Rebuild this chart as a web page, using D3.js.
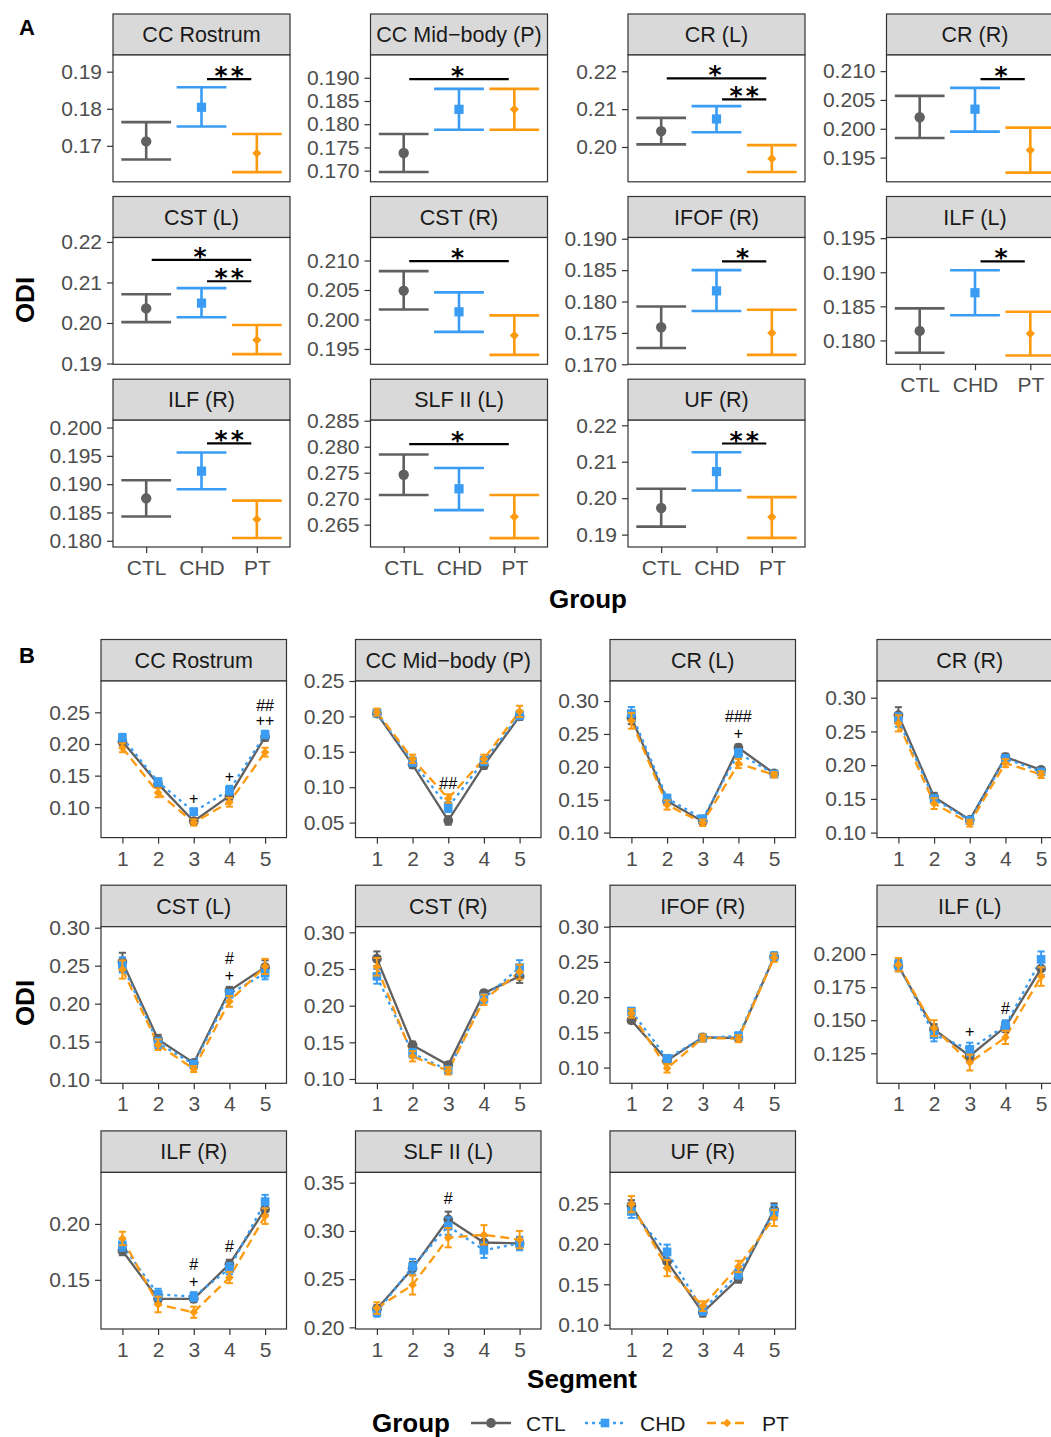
<!DOCTYPE html>
<html>
<head>
<meta charset="utf-8">
<script src="https://cdn.jsdelivr.net/npm/d3@7"></script>
<style>
body { margin: 0; background: #fff; }
</style>
</head>
<body>
<div id="chart"></div>
<script>
// ---- data ----
var groups = ['CTL', 'CHD', 'PT']
var tracts = ['CC Rostrum', 'CC Mid\u2212body (P)', 'CR (L)', 'CR (R)', 'CST (L)', 'CST (R)',
	'IFOF (R)', 'ILF (L)', 'ILF (R)', 'SLF II (L)', 'UF (R)']
var segments = [1, 2, 3, 4, 5]

// panel A: whole-tract mean ODI with interval, one value per tract
var a_ctl_mean = [0.1712, 0.1738, 0.2042, 0.2020, 0.2036, 0.2049, 0.1759, 0.1814, 0.1875, 0.2746, 0.1973]
var a_ctl_lo = [0.1663, 0.1697, 0.2007, 0.1984, 0.2002, 0.2017, 0.1726, 0.1782, 0.1843, 0.2707, 0.1922]
var a_ctl_hi = [0.1764, 0.1779, 0.2077, 0.2057, 0.2071, 0.2082, 0.1792, 0.1847, 0.1907, 0.2785, 0.2026]
var a_chd_mean = [0.1804, 0.1832, 0.2074, 0.2034, 0.2049, 0.2013, 0.1817, 0.1870, 0.1923, 0.2719, 0.2073]
var a_chd_lo = [0.1752, 0.1788, 0.2039, 0.1995, 0.2014, 0.1979, 0.1785, 0.1837, 0.1891, 0.2678, 0.2021]
var a_chd_hi = [0.1858, 0.1876, 0.2108, 0.2071, 0.2086, 0.2046, 0.1850, 0.1903, 0.1956, 0.2759, 0.2126]
var a_pt_mean = [0.1680, 0.1832, 0.1969, 0.1963, 0.1958, 0.1973, 0.1750, 0.1810, 0.1838, 0.2665, 0.1948]
var a_pt_lo = [0.1629, 0.1788, 0.1934, 0.1924, 0.1923, 0.1940, 0.1715, 0.1778, 0.1805, 0.2624, 0.1891]
var a_pt_hi = [0.1732, 0.1876, 0.2005, 0.2002, 0.1995, 0.2007, 0.1787, 0.1842, 0.1871, 0.2707, 0.2003]

var a_ydomain = [[0.1603, 0.1945], [0.1676, 0.1949], [0.1908, 0.2243], [0.1908, 0.2128],
	[0.1898, 0.2211], [0.1924, 0.2139], [0.1700, 0.1902], [0.1765, 0.1951],
	[0.1789, 0.2013], [0.2607, 0.2851], [0.1866, 0.2214]]
var a_yticks = [[0.17, 0.18, 0.19], [0.170, 0.175, 0.180, 0.185, 0.190], [0.20, 0.21, 0.22],
	[0.195, 0.200, 0.205, 0.210], [0.19, 0.20, 0.21, 0.22], [0.195, 0.200, 0.205, 0.210],
	[0.170, 0.175, 0.180, 0.185, 0.190], [0.180, 0.185, 0.190, 0.195],
	[0.180, 0.185, 0.190, 0.195, 0.200], [0.265, 0.270, 0.275, 0.280, 0.285], [0.19, 0.20, 0.21, 0.22]]

// significance brackets in panel A
var sig_tract = [0, 1, 2, 2, 3, 4, 4, 5, 6, 7, 8, 9, 10]
var sig_from = ['CHD', 'CTL', 'CTL', 'CHD', 'CHD', 'CTL', 'CHD', 'CTL', 'CHD', 'CHD', 'CHD', 'CTL', 'CHD']
var sig_to = ['PT', 'PT', 'PT', 'PT', 'PT', 'PT', 'PT', 'PT', 'PT', 'PT', 'PT', 'PT', 'PT']
var sig_y = [0.1880, 0.1897, 0.2181, 0.2126, 0.2086, 0.2156, 0.2103, 0.2099, 0.1864, 0.1916, 0.1972, 0.2805, 0.2150]
var sig_label = ['**', '*', '*', '**', '*', '*', '**', '*', '*', '*', '**', '*', '**']

// panel B: ODI by segment (mean and se), one row per tract
var b_ctl_mean = [
	[0.204, 0.137, 0.078, 0.118, 0.211], [0.204, 0.132, 0.053, 0.131, 0.200],
	[0.275, 0.148, 0.117, 0.229, 0.190], [0.274, 0.153, 0.119, 0.212, 0.193],
	[0.255, 0.153, 0.122, 0.217, 0.248], [0.264, 0.146, 0.119, 0.217, 0.240],
	[0.167, 0.110, 0.143, 0.142, 0.257], [0.191, 0.143, 0.123, 0.145, 0.189],
	[0.176, 0.133, 0.133, 0.164, 0.213], [0.219, 0.261, 0.312, 0.288, 0.287],
	[0.247, 0.178, 0.115, 0.157, 0.242]]
var b_chd_mean = [
	[0.210, 0.140, 0.093, 0.127, 0.215], [0.205, 0.136, 0.072, 0.137, 0.202],
	[0.281, 0.152, 0.121, 0.221, 0.189], [0.267, 0.150, 0.118, 0.210, 0.190],
	[0.251, 0.148, 0.120, 0.213, 0.240], [0.240, 0.135, 0.112, 0.210, 0.252],
	[0.180, 0.113, 0.142, 0.145, 0.258], [0.192, 0.139, 0.128, 0.146, 0.196],
	[0.181, 0.137, 0.135, 0.160, 0.220], [0.216, 0.263, 0.305, 0.280, 0.287],
	[0.240, 0.190, 0.118, 0.163, 0.239]]
var b_pt_mean = [
	[0.194, 0.123, 0.076, 0.108, 0.187], [0.206, 0.140, 0.084, 0.140, 0.207],
	[0.270, 0.142, 0.115, 0.205, 0.188], [0.262, 0.143, 0.114, 0.203, 0.186],
	[0.245, 0.146, 0.114, 0.203, 0.249], [0.253, 0.131, 0.111, 0.208, 0.246],
	[0.177, 0.099, 0.142, 0.141, 0.256], [0.192, 0.144, 0.118, 0.137, 0.183],
	[0.187, 0.128, 0.121, 0.152, 0.207], [0.220, 0.244, 0.293, 0.296, 0.291],
	[0.249, 0.170, 0.123, 0.172, 0.232]]
var b_ctl_se = [
	[0.006, 0.006, 0.005, 0.006, 0.006], [0.004, 0.005, 0.006, 0.005, 0.005],
	[0.010, 0.005, 0.004, 0.005, 0.004], [0.012, 0.006, 0.004, 0.005, 0.004],
	[0.012, 0.006, 0.004, 0.005, 0.009], [0.010, 0.005, 0.004, 0.004, 0.009],
	[0.004, 0.004, 0.004, 0.004, 0.005], [0.004, 0.004, 0.004, 0.004, 0.005],
	[0.004, 0.004, 0.003, 0.004, 0.005], [0.004, 0.007, 0.008, 0.007, 0.006],
	[0.007, 0.008, 0.005, 0.005, 0.008]]
var b_chd_se = [
	[0.006, 0.006, 0.005, 0.007, 0.006], [0.005, 0.006, 0.007, 0.006, 0.006],
	[0.010, 0.006, 0.005, 0.006, 0.004], [0.010, 0.006, 0.005, 0.005, 0.004],
	[0.010, 0.007, 0.005, 0.005, 0.008], [0.010, 0.006, 0.005, 0.006, 0.010],
	[0.005, 0.005, 0.005, 0.005, 0.006], [0.004, 0.005, 0.005, 0.004, 0.006],
	[0.005, 0.005, 0.004, 0.005, 0.006], [0.005, 0.008, 0.009, 0.008, 0.007],
	[0.008, 0.009, 0.006, 0.006, 0.009]]
var b_pt_se = [
	[0.007, 0.007, 0.005, 0.007, 0.007], [0.005, 0.006, 0.006, 0.006, 0.008],
	[0.012, 0.007, 0.005, 0.007, 0.004], [0.012, 0.008, 0.005, 0.006, 0.005],
	[0.012, 0.007, 0.004, 0.007, 0.010], [0.012, 0.007, 0.005, 0.007, 0.010],
	[0.006, 0.006, 0.005, 0.005, 0.006], [0.005, 0.006, 0.006, 0.005, 0.007],
	[0.006, 0.007, 0.005, 0.005, 0.007], [0.006, 0.010, 0.010, 0.010, 0.009],
	[0.010, 0.010, 0.006, 0.007, 0.010]]

var b_ydomain = [[0.0521, 0.2995], [0.0288, 0.2500], [0.0924, 0.3305], [0.0926, 0.3248],
	[0.0952, 0.3013], [0.0941, 0.3077], [0.0777, 0.3000], [0.1023, 0.2207],
	[0.1060, 0.2461], [0.1983, 0.3607], [0.0947, 0.2883]]
var b_yticks = [[0.10, 0.15, 0.20, 0.25], [0.05, 0.10, 0.15, 0.20, 0.25], [0.10, 0.15, 0.20, 0.25, 0.30],
	[0.10, 0.15, 0.20, 0.25, 0.30], [0.10, 0.15, 0.20, 0.25, 0.30], [0.10, 0.15, 0.20, 0.25, 0.30],
	[0.10, 0.15, 0.20, 0.25, 0.30], [0.125, 0.150, 0.175, 0.200], [0.15, 0.20],
	[0.20, 0.25, 0.30, 0.35], [0.10, 0.15, 0.20, 0.25]]

// segment-wise markers in panel B
var ann_tract = [0, 0, 0, 0, 1, 2, 2, 4, 4, 7, 7, 8, 8, 8, 9]
var ann_seg = [5, 5, 3, 4, 3, 4, 4, 4, 4, 3, 4, 3, 3, 4, 3]
var ann_y = [0.2610, 0.2380, 0.1137, 0.1495, 0.105, 0.2772, 0.2518, 0.2596, 0.2368, 0.142, 0.159, 0.1643, 0.149, 0.1798, 0.334]
var ann_text = ['##', '++', '+', '+', '##', '###', '+', '#', '+', '+', '#', '#', '+', '#', '#']

// ---- setup ----
var W = 1051, H = 1437
var font = '"Liberation Sans", Arial, Helvetica, sans-serif'
var colors = {CTL: '#606060', CHD: '#3a9cf2', PT: '#fd9a10'}
var dashes = {CTL: null, CHD: '3,4', PT: '9,5'}

var aMean = {CTL: a_ctl_mean, CHD: a_chd_mean, PT: a_pt_mean}
var aLo = {CTL: a_ctl_lo, CHD: a_chd_lo, PT: a_pt_lo}
var aHi = {CTL: a_ctl_hi, CHD: a_chd_hi, PT: a_pt_hi}
var bMean = {CTL: b_ctl_mean, CHD: b_chd_mean, PT: b_pt_mean}
var bSe = {CTL: b_ctl_se, CHD: b_chd_se, PT: b_pt_se}

var svg = d3.select('#chart').append('svg')
	.attr('width', W)
	.attr('height', H)
	.attr('font-family', font)

svg.append('rect').attr('width', W).attr('height', H).attr('fill', '#fff')

function tickFmt(ticks) {
	var d = 1
	while (d < 4 && ticks.some(function(t) { return Math.abs(+t.toFixed(d) - t) > 1e-9 })) d++
	return d3.format('.' + d + 'f')
}

function styleAxis(g) {
	g.attr('font-size', null).attr('font-family', null)
	g.select('.domain').remove()
	g.selectAll('.tick line').attr('stroke', '#333').attr('stroke-width', 1.2)
	g.selectAll('.tick text').attr('fill', '#4d4d4d').attr('font-size', 21)
}

// draws the strip and returns the panel body group
function facet(x0, y0, w, stripH, bodyH, title) {
	var g = svg.append('g').attr('transform', 'translate(' + x0 + ',' + y0 + ')')
	g.append('rect')
		.attr('width', w).attr('height', stripH)
		.attr('fill', '#d9d9d9').attr('stroke', '#333').attr('stroke-width', 1.2)
	g.append('text')
		.attr('x', w / 2).attr('y', stripH / 2).attr('dy', '0.36em')
		.attr('text-anchor', 'middle').attr('font-size', 21.5).attr('fill', '#1a1a1a')
		.text(title)
	var body = g.append('g').attr('transform', 'translate(0,' + stripH + ')')
	body.append('rect').attr('width', w).attr('height', bodyH).attr('fill', '#fff')
	return body
}

function border(body, w, h) {
	body.append('rect')
		.attr('width', w).attr('height', h)
		.attr('fill', 'none').attr('stroke', '#333').attr('stroke-width', 1.2)
}

function marker(sel, grp, size) {
	if (grp == 'CTL') return sel.attr('d', d3.symbol().type(d3.symbolCircle).size(size))
	if (grp == 'CHD') return sel.attr('d', d3.symbol().type(d3.symbolSquare).size(size))
	return sel.attr('d', d3.symbol().type(d3.symbolSquare).size(size * 0.5))
}

// ---- panel A ----
var aCols = [113, 370.5, 628, 886.5], aW = 177
var aRows = [14, 196.5, 379.2], aStrip = 41, aBody = 126.8

tracts.forEach(function(name, i) {
	var col = i % 4, row = Math.floor(i / 4)
	var body = facet(aCols[col], aRows[row], aW, aStrip, aBody, name)
	var x = d3.scalePoint().domain(groups).range([0, aW]).padding(0.6)
	var y = d3.scaleLinear().domain(a_ydomain[i]).range([aBody, 0])
	var step = x.step()

	body.append('g')
		.call(d3.axisLeft(y).tickValues(a_yticks[i]).tickSize(6).tickPadding(5).tickFormat(tickFmt(a_yticks[i])))
		.call(styleAxis)

	if (row == 2 || i == 7) {
		body.append('g')
			.attr('transform', 'translate(0,' + aBody + ')')
			.call(d3.axisBottom(x).tickSize(6).tickPadding(7))
			.call(styleAxis)
	}

	groups.forEach(function(grp) {
		var cx = x(grp), lo = y(aLo[grp][i]), hi = y(aHi[grp][i])
		var eb = body.append('g').attr('stroke', colors[grp]).attr('stroke-width', 2.6)
		eb.append('line').attr('x1', cx).attr('x2', cx).attr('y1', lo).attr('y2', hi)
		eb.append('line').attr('x1', cx - 0.45 * step).attr('x2', cx + 0.45 * step).attr('y1', lo).attr('y2', lo)
		eb.append('line').attr('x1', cx - 0.45 * step).attr('x2', cx + 0.45 * step).attr('y1', hi).attr('y2', hi)
		body.append('path')
			.call(marker, grp, 85)
			.attr('fill', colors[grp])
			.attr('transform', 'translate(' + cx + ',' + y(aMean[grp][i]) + ')' + (grp == 'PT' ? ' rotate(45)' : ''))
	})

	sig_tract.forEach(function(t, k) {
		if (t != i) return
		var x1 = x(sig_from[k]) + 0.1 * step, x2 = x(sig_to[k]) - 0.1 * step, sy = y(sig_y[k])
		body.append('line')
			.attr('x1', x1).attr('x2', x2).attr('y1', sy).attr('y2', sy)
			.attr('stroke', '#000').attr('stroke-width', 2.2)
		body.append('text')
			.attr('x', (x1 + x2) / 2 + (sig_label[k].length - 1) * 1.5).attr('y', sy + 5)
			.attr('text-anchor', 'middle').attr('font-size', 25).attr('font-weight', 'bold')
			.attr('font-family', '"DejaVu Sans", sans-serif').attr('letter-spacing', 3)
			.attr('fill', '#000')
			.text(sig_label[k])
	})

	border(body, aW, aBody)
})

// ---- panel B ----
var bCols = [101, 355.5, 610, 877], bW = 185.5
var bRows = [639.5, 885.2, 1130.9], bStrip = 41.5, bBody = 156.6

tracts.forEach(function(name, i) {
	var col = i % 4, row = Math.floor(i / 4)
	var body = facet(bCols[col], bRows[row], bW, bStrip, bBody, name)
	var x = d3.scalePoint().domain(segments).range([0, bW]).padding(0.6)
	var y = d3.scaleLinear().domain(b_ydomain[i]).range([bBody, 0])
	var step = x.step()

	body.append('g')
		.call(d3.axisLeft(y).tickValues(b_yticks[i]).tickSize(6).tickPadding(5).tickFormat(tickFmt(b_yticks[i])))
		.call(styleAxis)
	body.append('g')
		.attr('transform', 'translate(0,' + bBody + ')')
		.call(d3.axisBottom(x).tickSize(6).tickPadding(7))
		.call(styleAxis)

	var line = d3.line()
		.x(function(d, s) { return x(segments[s]) })
		.y(function(d) { return y(d) })

	groups.forEach(function(grp) {
		body.append('path')
			.datum(bMean[grp][i])
			.attr('d', line)
			.attr('fill', 'none')
			.attr('stroke', colors[grp]).attr('stroke-width', 2.3)
			.attr('stroke-dasharray', dashes[grp])
	})

	groups.forEach(function(grp) {
		segments.forEach(function(seg, s) {
			var cx = x(seg), m = bMean[grp][i][s], se = bSe[grp][i][s]
			var eb = body.append('g').attr('stroke', colors[grp]).attr('stroke-width', 2)
			eb.append('line').attr('x1', cx).attr('x2', cx).attr('y1', y(m - se)).attr('y2', y(m + se))
			eb.append('line').attr('x1', cx - 0.1 * step).attr('x2', cx + 0.1 * step).attr('y1', y(m - se)).attr('y2', y(m - se))
			eb.append('line').attr('x1', cx - 0.1 * step).attr('x2', cx + 0.1 * step).attr('y1', y(m + se)).attr('y2', y(m + se))
			body.append('path')
				.call(marker, grp, 75)
				.attr('fill', colors[grp])
				.attr('transform', 'translate(' + cx + ',' + y(m) + ')' + (grp == 'PT' ? ' rotate(45)' : ''))
		})
	})

	// markers stacked on the same segment go into one text, one line each
	var stacks = d3.groups(ann_text.map(function(t, k) { return k }).filter(function(k) { return ann_tract[k] == i }),
		function(k) { return ann_seg[k] })
	stacks.forEach(function(st) {
		var txt = body.append('text')
			.attr('text-anchor', 'middle').attr('font-size', 16).attr('fill', '#000')
		st[1].forEach(function(k) {
			txt.append('tspan')
				.attr('x', x(ann_seg[k])).attr('y', y(ann_y[k])).attr('dy', '0.36em')
				.text(ann_text[k])
		})
	})

	border(body, bW, bBody)
})

// ---- titles, tags, legend ----
function title(txt, x, y, size, rotate) {
	svg.append('text')
		.attr('transform', 'translate(' + x + ',' + y + ')' + (rotate ? ' rotate(-90)' : ''))
		.attr('text-anchor', 'middle').attr('font-size', size).attr('font-weight', 'bold')
		.attr('fill', '#000')
		.text(txt)
}

title('A', 27, 35, 22)
title('B', 27, 663, 22)
title('ODI', 34, 300, 26, true)
title('ODI', 34, 1003, 26, true)
title('Group', 588, 608, 26)
title('Segment', 582, 1388, 26)

var legend = svg.append('g').attr('transform', 'translate(0,1423)')
legend.append('text')
	.attr('x', 372).attr('y', 9).attr('font-size', 26).attr('font-weight', 'bold').attr('fill', '#000')
	.text('Group')
var keyX = [471, 585, 707]
groups.forEach(function(grp, k) {
	var kx = keyX[k]
	legend.append('line')
		.attr('x1', kx).attr('x2', kx + 40).attr('y1', 0).attr('y2', 0)
		.attr('stroke', colors[grp]).attr('stroke-width', 2.3)
		.attr('stroke-dasharray', dashes[grp])
	legend.append('path')
		.call(marker, grp, 75)
		.attr('fill', colors[grp])
		.attr('transform', 'translate(' + (kx + 20) + ',0)' + (grp == 'PT' ? ' rotate(45)' : ''))
	legend.append('text')
		.attr('x', kx + 55).attr('y', 0).attr('dy', '0.36em')
		.attr('font-size', 21).attr('fill', '#1a1a1a')
		.text(grp)
})
</script>
</body>
</html>
